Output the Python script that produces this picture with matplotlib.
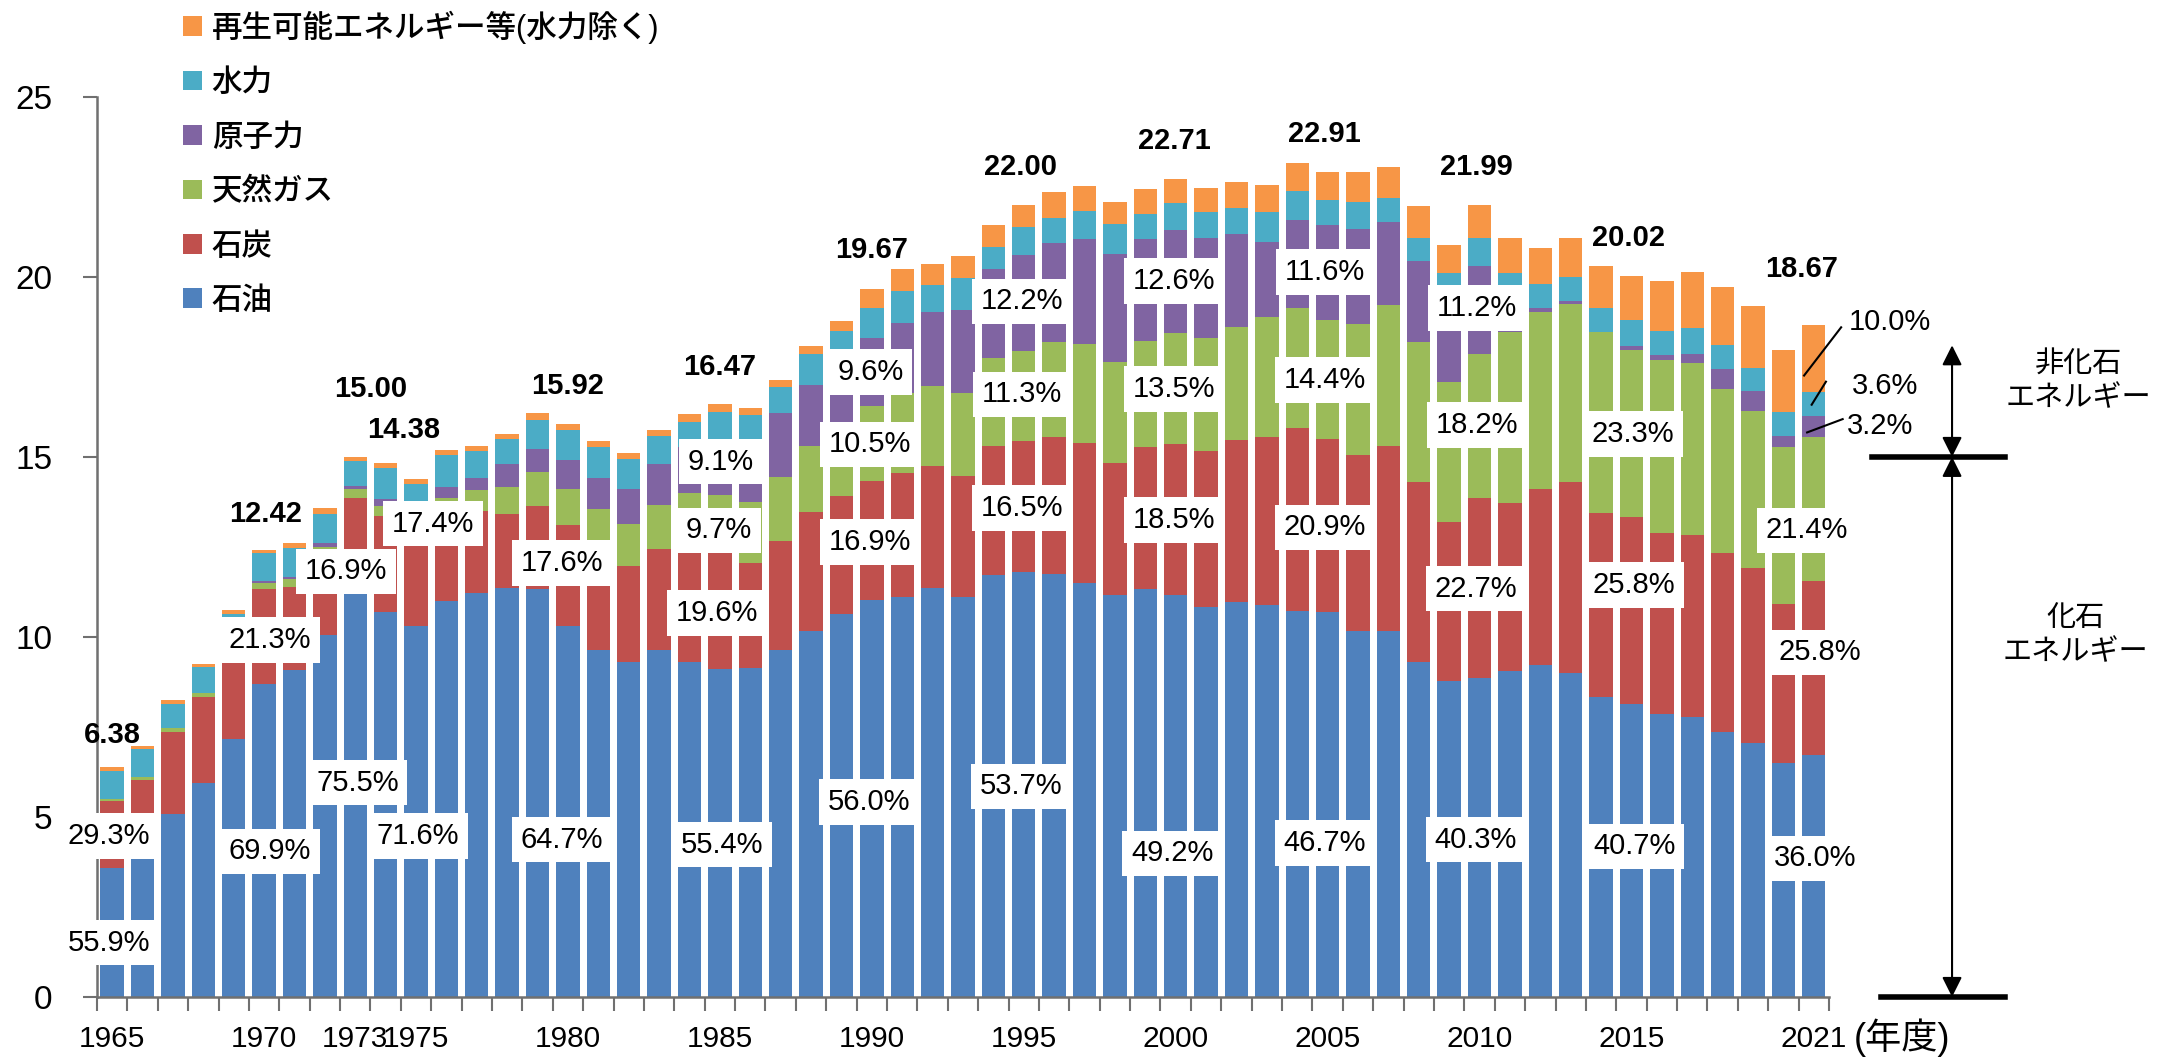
import numpy as np
import matplotlib.pyplot as plt

plt.rcParams['font.family'] = ['Liberation Sans', 'Noto Sans CJK JP', 'DejaVu Sans']

# Primary energy supply by source (fiscal years, 10^18 J)
years = list(range(1965, 2022))
oil = [3.57, 4.05, 5.08, 5.93, 7.17, 8.68, 9.09, 10.04, 11.33, 10.68,
       10.30, 10.99, 11.23, 11.37, 11.34, 10.30, 9.63, 9.30, 9.63, 9.31,
       9.12, 9.13, 9.63, 10.17, 10.64, 11.02, 11.12, 11.36, 11.11, 11.71,
       11.81, 11.76, 11.49, 11.17, 11.33, 11.17, 10.84, 10.96, 10.88, 10.73,
       10.70, 10.17, 10.17, 9.29, 8.78, 8.86, 9.05, 9.21, 9.00, 8.33,
       8.15, 7.86, 7.78, 7.37, 7.06, 6.50, 6.72]
coal = [1.87, 1.97, 2.29, 2.41, 2.50, 2.65, 2.31, 2.20, 2.53, 2.67,
        2.50, 2.41, 2.26, 2.05, 2.30, 2.80, 2.78, 2.67, 2.80, 3.12,
        3.23, 2.92, 3.04, 3.30, 3.27, 3.32, 3.43, 3.38, 3.36, 3.59,
        3.63, 3.78, 3.89, 3.67, 3.94, 4.20, 4.32, 4.52, 4.66, 5.07,
        4.79, 4.89, 5.13, 5.02, 4.42, 4.99, 4.67, 4.90, 5.31, 5.11,
        5.17, 5.02, 5.05, 4.95, 4.86, 4.42, 4.82]
gas = [0.07, 0.10, 0.09, 0.11, 0.15, 0.17, 0.20, 0.26, 0.24, 0.30,
       0.36, 0.45, 0.60, 0.75, 0.95, 1.00, 1.15, 1.17, 1.23, 1.56,
       1.60, 1.70, 1.77, 1.83, 1.89, 2.07, 2.23, 2.24, 2.31, 2.44,
       2.49, 2.65, 2.76, 2.79, 2.95, 3.07, 3.14, 3.14, 3.35, 3.34,
       3.30, 3.64, 3.91, 3.88, 3.87, 4.00, 4.76, 4.91, 4.95, 5.02,
       4.66, 4.82, 4.78, 4.58, 4.35, 4.35, 4.00]
nuclear = [0.00, 0.00, 0.00, 0.00, 0.00, 0.05, 0.07, 0.10, 0.09, 0.19,
           0.25, 0.32, 0.32, 0.63, 0.63, 0.81, 0.85, 0.96, 1.14, 1.28,
           1.50, 1.66, 1.77, 1.69, 1.86, 1.89, 1.95, 2.04, 2.30, 2.47,
           2.68, 2.74, 2.90, 3.01, 2.82, 2.86, 2.79, 2.58, 2.07, 2.43,
           2.66, 2.63, 2.31, 2.26, 2.31, 2.46, 0.87, 0.12, 0.08, 0.00,
           0.09, 0.12, 0.24, 0.55, 0.55, 0.32, 0.60]
hydro = [0.77, 0.76, 0.68, 0.72, 0.82, 0.77, 0.81, 0.81, 0.71, 0.85,
         0.85, 0.88, 0.76, 0.71, 0.80, 0.85, 0.86, 0.84, 0.79, 0.69,
         0.80, 0.75, 0.73, 0.86, 0.85, 0.84, 0.88, 0.76, 0.89, 0.61,
         0.79, 0.72, 0.80, 0.82, 0.72, 0.76, 0.72, 0.72, 0.83, 0.83,
         0.70, 0.75, 0.66, 0.64, 0.72, 0.76, 0.75, 0.67, 0.67, 0.68,
         0.73, 0.69, 0.74, 0.67, 0.65, 0.67, 0.67]
renew = [0.10, 0.10, 0.10, 0.09, 0.10, 0.10, 0.12, 0.16, 0.10, 0.15,
         0.12, 0.14, 0.14, 0.14, 0.19, 0.16, 0.18, 0.18, 0.17, 0.23,
         0.22, 0.20, 0.21, 0.24, 0.27, 0.53, 0.60, 0.59, 0.61, 0.62,
         0.60, 0.72, 0.68, 0.63, 0.68, 0.65, 0.67, 0.72, 0.77, 0.76,
         0.76, 0.84, 0.86, 0.88, 0.80, 0.92, 0.99, 0.99, 1.08, 1.15,
         1.22, 1.38, 1.54, 1.61, 1.71, 1.72, 1.86]

series = [oil, coal, gas, nuclear, hydro, renew]
names = ['石油', '石炭', '天然ガス', '原子力', '水力', '再生可能エネルギー等(水力除く)']
colors = ['#4F81BD', '#C0504D', '#9BBB59', '#8064A2', '#4BACC6', '#F79646']

tick_years = [1965, 1970, 1973, 1975, 1980, 1985, 1990, 1995, 2000, 2005, 2010, 2015, 2021]

# total labels: (year, text, x offset, y)
total_labels = [
    (1965, '6.38', 0.0, 7.28), (1970, '12.42', 0.05, 13.41), (1973, '15.00', 0.5, 16.88),
    (1975, '14.38', -0.4, 15.76), (1980, '15.92', 0.0, 16.97), (1985, '16.47', 0.0, 17.49),
    (1990, '19.67', 0.0, 20.74), (1995, '22.00', -0.1, 23.04), (2000, '22.71', -0.05, 23.77),
    (2005, '22.91', -0.1, 23.96), (2010, '21.99', -0.1, 23.05), (2015, '20.02', -0.1, 21.09),
    (2021, '18.67', -0.4, 20.21),
]

# share labels: (year, text, x offset, y)
share_labels = [
    (1965, '55.9%', -0.1, 1.51), (1965, '29.3%', -0.1, 4.47),
    (1970, '69.9%', 0.2, 4.04), (1970, '21.3%', 0.2, 9.91),
    (1973, '75.5%', 0.07, 5.95), (1973, '16.9%', -0.3, 11.82),
    (1975, '71.6%', 0.05, 4.47), (1975, '17.4%', 0.57, 13.15),
    (1980, '64.7%', -0.2, 4.37), (1980, '17.6%', -0.2, 12.06),
    (1985, '55.4%', 0.06, 4.23), (1985, '19.6%', -0.1, 10.67),
    (1985, '9.7%', -0.04, 12.96), (1985, '9.1%', 0.03, 14.87),
    (1990, '56.0%', -0.1, 5.42), (1990, '16.9%', -0.05, 12.63),
    (1990, '10.5%', -0.05, 15.35), (1990, '9.6%', -0.05, 17.36),
    (1995, '53.7%', -0.1, 5.85), (1995, '16.5%', -0.06, 13.58),
    (1995, '11.3%', -0.06, 16.74), (1995, '12.2%', -0.06, 19.32),
    (2000, '49.2%', -0.11, 3.99), (2000, '18.5%', -0.06, 13.25),
    (2000, '13.5%', -0.06, 16.88), (2000, '12.6%', -0.06, 19.89),
    (2005, '46.7%', -0.1, 4.27), (2005, '20.9%', -0.1, 13.04),
    (2005, '14.4%', -0.1, 17.14), (2005, '11.6%', -0.1, 20.13),
    (2010, '40.3%', -0.13, 4.37), (2010, '22.7%', -0.13, 11.34),
    (2010, '18.2%', -0.1, 15.88), (2010, '11.2%', -0.1, 19.13),
    (2015, '40.7%', 0.09, 4.18), (2015, '25.8%', 0.09, 11.44),
    (2015, '23.3%', 0.05, 15.64),
    (2021, '36.0%', 0.05, 3.85), (2021, '25.8%', 0.2, 9.57), (2021, '21.4%', -0.23, 12.96),
]

fig = plt.figure(figsize=(21.74, 10.59), dpi=100)
ax = fig.add_axes([0.0446, 0.0586, 0.7967, 0.8499])

x = np.arange(len(years))
bottom = np.zeros(len(years))
handles = []
for vals, name, c in zip(series, names, colors):
    b = ax.bar(x, vals, width=0.77, bottom=bottom, color=c, label=name, zorder=2)
    bottom = bottom + np.array(vals)
    handles.append(b)

ax.set_xlim(-0.5, 56.5)
ax.set_ylim(0, 25)
for s in ['top', 'right']:
    ax.spines[s].set_visible(False)
for s in ['left', 'bottom']:
    ax.spines[s].set_color('#707070')
    ax.spines[s].set_linewidth(1.8)

ax.set_yticks([0, 5, 10, 15, 20, 25])
ax.tick_params(axis='y', length=10, width=1.5, color='#707070', pad=22, labelsize=24)
ax.set_xticks([y - 1965 for y in tick_years])
ax.set_xticklabels([str(y) for y in tick_years])
ax.set_xticks(np.arange(-0.5, 57, 1), minor=True)
ax.tick_params(axis='x', which='major', length=0, pad=20, labelsize=21.5)
ax.tick_params(axis='x', which='minor', length=10, width=1.5, color='#707070')
ax.text(57.3, -1.13, '(年度)', fontsize=26, ha='left', va='center', clip_on=False)

# legend (top item first)
ax.legend(handles[::-1], names[::-1], loc='upper left', bbox_to_anchor=(0.084, 0.990),
          bbox_transform=fig.transFigure, frameon=False,
          prop={'size': 22, 'weight': 'medium'},
          handlelength=0.62, handleheight=0.62, handletextpad=0.33,
          labelspacing=0.8, borderpad=0, borderaxespad=0)

# totals
for yr, s, dx, yv in total_labels:
    ax.text(yr - 1965 + dx, yv, s, ha='center', va='center', fontsize=21,
            fontweight='bold', zorder=5)

# shares
for yr, s, dx, yv in share_labels:
    ax.text(yr - 1965 + dx, yv, s, ha='center', va='center', fontsize=21, zorder=5,
            bbox=dict(boxstyle='square,pad=0.3', fc='white', ec='none'))

# non-fossil shares of 2021 with leader lines
ax.text(57.15, 18.74, '10.0%', ha='left', va='center', fontsize=21)
ax.text(57.25, 16.97, '3.6%', ha='left', va='center', fontsize=21)
ax.text(57.1, 15.87, '3.2%', ha='left', va='center', fontsize=21)
ax.plot([56.9, 55.68], [18.6, 17.26], color='black', lw=1.5, clip_on=False, zorder=6)
ax.plot([56.4, 55.93], [17.09, 16.45], color='black', lw=1.5, clip_on=False, zorder=6)
ax.plot([56.95, 55.78], [16.05, 15.68], color='black', lw=1.5, clip_on=False, zorder=6)

# fossil / non-fossil brackets on the right
ax.plot([57.9, 62.3], [15, 15], color='black', lw=4, clip_on=False)
ax.plot([58.2, 62.3], [0, 0], color='black', lw=4, clip_on=False)
arrow = dict(arrowstyle='<|-|>', color='black', lw=1.5, mutation_scale=30,
             shrinkA=0, shrinkB=0)
ax.annotate('', xy=(60.55, 18.1), xytext=(60.55, 15.0), arrowprops=arrow,
            annotation_clip=False)
ax.annotate('', xy=(60.55, 15.0), xytext=(60.55, 0.0), arrowprops=arrow,
            annotation_clip=False)
ax.text(64.7, 17.1, '非化石\nエネルギー', ha='center', va='center', fontsize=21,
        linespacing=1.25, clip_on=False)
ax.text(64.6, 10.05, '化石\nエネルギー', ha='center', va='center', fontsize=21,
        linespacing=1.25, clip_on=False)

plt.savefig('out.png', dpi=100)
plt.close()
